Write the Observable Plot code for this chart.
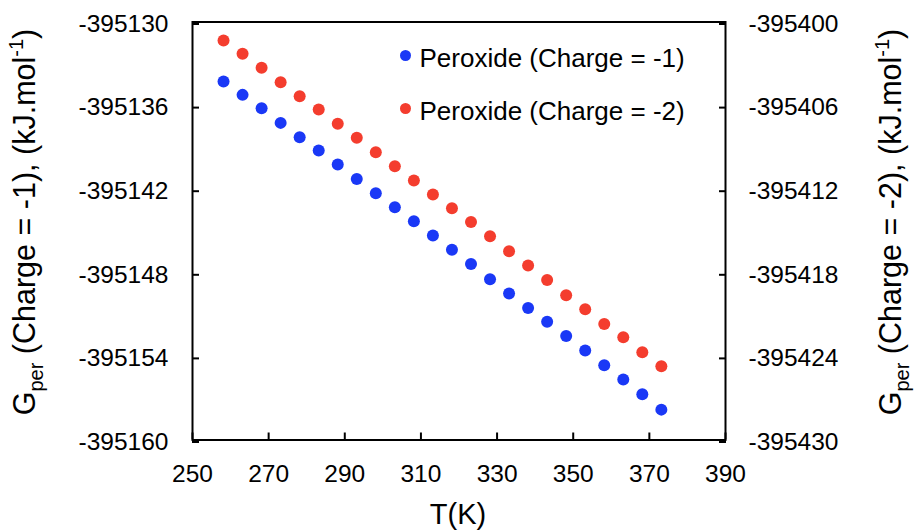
<!DOCTYPE html>
<html><head><meta charset="utf-8">
<script src="https://cdn.jsdelivr.net/npm/d3@7"></script>
<script src="https://cdn.jsdelivr.net/npm/@observablehq/plot@0.6"></script>
<style>body{margin:0;background:#fff;} #chart{width:917px;height:531px;}</style>
</head><body><div id="chart"></div>
<script>
const temperatures = [258.15, 263.15, 268.15, 273.15, 278.15, 283.15, 288.15, 293.15, 298.15, 303.15, 308.15, 313.15,
  318.15, 323.15, 328.15, 333.15, 338.15, 343.15, 348.15, 353.15, 358.15, 363.15, 368.15, 373.15];
const gCharge1 = [-395134.27, -395135.23, -395136.19, -395137.24, -395138.27, -395139.22, -395140.23, -395141.26,
  -395142.29, -395143.30, -395144.30, -395145.33, -395146.35, -395147.36, -395148.46, -395149.49,
  -395150.52, -395151.52, -395152.53, -395153.58, -395154.64, -395155.66, -395156.72, -395157.82];
const gCharge2 = [-395401.33, -395402.28, -395403.29, -395404.32, -395405.33, -395406.28, -395407.31, -395408.31,
  -395409.35, -395410.35, -395411.38, -395412.38, -395413.36, -395414.36, -395415.38, -395416.45,
  -395417.48, -395418.51, -395419.61, -395420.62, -395421.67, -395422.63, -395423.70, -395424.71];
const seriesNames = ["Peroxide (Charge = -1)", "Peroxide (Charge = -2)"];
const seriesColors = ["#1a38f6", "#f43d2e"];
const xTicks = [250, 270, 290, 310, 330, 350, 370, 390];
const leftTicks = [-395160, -395154, -395148, -395142, -395136, -395130];
const rightTicks = [-395430, -395424, -395418, -395412, -395406, -395400];
const rightOffset = rightTicks[0] - leftTicks[0];

const points = [];
temperatures.forEach((t, i) => {
  points.push({T: t, G: gCharge1[i], s: seriesNames[0]});
});
temperatures.forEach((t, i) => {
  points.push({T: t, G: gCharge2[i] - rightOffset, s: seriesNames[1]});
});

const mL = 192, mT = 21.5;
const legendMarks = seriesNames.flatMap((name, i) => [
  Plot.dot([name], {frameAnchor: "top-left", dx: 405 - mL, dy: 55 - mT + i * 53, r: 5.5, fill: seriesColors[i]}),
  Plot.text([name], {frameAnchor: "top-left", dx: 419 - mL, dy: 58 - mT + i * 53, text: d => d, textAnchor: "start", lineAnchor: "middle", fontSize: 26, fill: "#000"})
]);

const tick = 7;
const plot = Plot.plot({
  width: 917, height: 531,
  marginLeft: mL, marginRight: 192, marginTop: mT, marginBottom: 91.5,
  style: {fontFamily: "'Liberation Sans', Arial, sans-serif", fontSize: "24.5px", color: "#000", background: "#fff", overflow: "visible"},
  x: {domain: [250, 390]},
  y: {domain: [leftTicks[0], leftTicks[leftTicks.length - 1]]},
  color: {domain: seriesNames, range: seriesColors},
  marks: [
    Plot.dot(points, {x: "T", y: "G", r: 6, fill: "s"}),
    Plot.frame({stroke: "#000", strokeWidth: 2}),
    Plot.axisX({ticks: xTicks, tickSize: tick, insetBottom: tick, tickPadding: 25, strokeWidth: 2, tickFormat: d => String(d), label: null}),
    Plot.axisY({anchor: "left", ticks: leftTicks, tickSize: tick, insetLeft: tick, tickPadding: 24, dy: 2, strokeWidth: 2, tickFormat: d => String(d), label: null}),
    Plot.axisY({anchor: "right", ticks: leftTicks, tickSize: tick, insetRight: tick, tickPadding: 23, dy: 2, strokeWidth: 2, tickFormat: d => String(d + rightOffset), label: null}),
    ...legendMarks
  ]
});

const svg = d3.select(plot);
function yTitle(x, charge) {
  const t = svg.append("text")
    .attr("transform", `translate(${x},222) rotate(-90)`)
    .attr("text-anchor", "middle")
    .attr("font-family", "'Liberation Sans', Arial, sans-serif")
    .attr("font-size", 30.5)
    .attr("fill", "#000");
  t.append("tspan").text("G");
  t.append("tspan").attr("font-size", 20).attr("dy", 8).text("per");
  t.append("tspan").attr("dy", -8).text(` (Charge = ${charge}), (kJ.mol`);
  t.append("tspan").attr("font-size", 20).attr("dy", -12).text("-1");
  t.append("tspan").attr("dy", 12).text(")");
}
yTitle(35, "-1");
yTitle(901, "-2");
svg.append("text")
  .attr("x", 458).attr("y", 524)
  .attr("text-anchor", "middle")
  .attr("font-family", "'Liberation Sans', Arial, sans-serif")
  .attr("font-size", 29)
  .attr("fill", "#000")
  .text("T(K)");

document.getElementById("chart").appendChild(plot);
</script>
</body></html>
